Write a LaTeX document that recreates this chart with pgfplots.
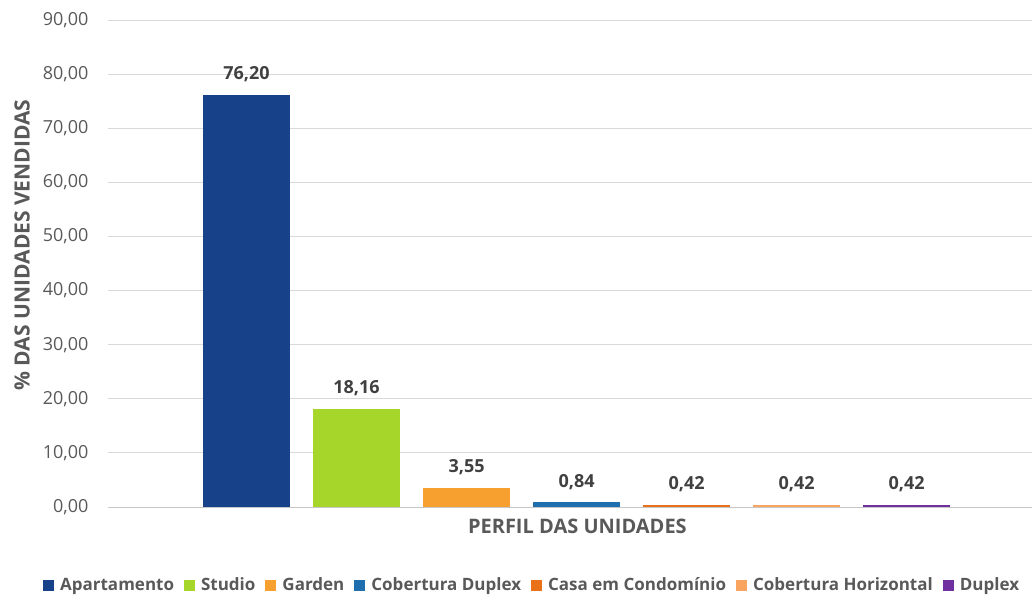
\documentclass[border=0pt]{standalone}
\usepackage{fontspec}
\setmainfont{Open Sans}
\usepackage{pgfplots}
\pgfplotsset{compat=1.18}
\definecolor{cApt}{HTML}{17428A}
\definecolor{cStu}{HTML}{A6D62A}
\definecolor{cGar}{HTML}{F7A030}
\definecolor{cCobD}{HTML}{1F6FAF}
\definecolor{cCasa}{HTML}{E8711A}
\definecolor{cCobH}{HTML}{F9A55F}
\definecolor{cDup}{HTML}{7030A0}
\definecolor{txt}{HTML}{595959}
\definecolor{lbl}{HTML}{404040}
\definecolor{grd}{HTML}{D9D9D9}
\begin{document}
\begin{tikzpicture}
\begin{axis}[
  scale only axis,
  width=924pt, height=487pt,
  xmin=-1.259, xmax=7.14,
  ymin=0, ymax=90,
  ytick={0,10,...,90},
  xtick=\empty,
  ymajorgrids, grid style={grd, line width=1pt},
  axis line style={draw=none},
  major tick length=0pt,
  ybar, bar width=87pt, bar shift=0pt,
  /pgf/number format/.cd, use comma, fixed, fixed zerofill, precision=2, assume math mode=true,
  /pgfplots/.cd,
  yticklabel style={font=\fontsize{18}{20}\selectfont, text=txt, xshift=-16pt},
  nodes near coords,
  nodes near coords style={font=\bfseries\fontsize{18}{20}\selectfont, text=lbl, yshift=9pt,
    /pgf/number format/.cd, use comma, fixed, fixed zerofill, precision=2, assume math mode=true},
  ylabel={\% DAS UNIDADES VENDIDAS},
  every axis y label/.style={at={(axis description cs:-0.093,0.538)}, rotate=90, anchor=center, font=\bfseries\fontsize{21}{23}\selectfont, text=txt},
  xlabel={PERFIL DAS UNIDADES},
  every axis x label/.style={at={(axis description cs:0.508,0)}, anchor=center, yshift=-19pt, font=\bfseries\fontsize{20}{22}\selectfont, text=txt},
  legend columns=7,
  legend style={at={(axis description cs:0.459,0)}, anchor=center, yshift=-78pt, draw=none, fill=none,
    font=\bfseries\fontsize{17}{19}\selectfont, text=txt,
    /tikz/every odd column/.append style={column sep=4pt},
    /tikz/every even column/.append style={column sep=8pt}},
  legend image code/.code={\fill[#1] (0pt,-5.5pt) rectangle (11pt,5.5pt);},
  clip=false,
]
\addplot[fill=cApt, draw=none] coordinates {(0,76.20)};
\addplot[fill=cStu, draw=none] coordinates {(1,18.16)};
\addplot[fill=cGar, draw=none] coordinates {(2,3.55)};
\addplot[fill=cCobD, draw=none] coordinates {(3,0.84)};
\addplot[fill=cCasa, draw=none] coordinates {(4,0.42)};
\addplot[fill=cCobH, draw=none] coordinates {(5,0.42)};
\addplot[fill=cDup, draw=none] coordinates {(6,0.42)};
\legend{Apartamento, Studio, Garden, Cobertura Duplex, Casa em Condomínio, Cobertura Horizontal, Duplex}
\draw[grd!80!gray, line width=1pt] (axis cs:-1.259,0) -- (axis cs:7.14,0);
\end{axis}
\pgfresetboundingbox
\path (-108pt,-88pt) rectangle (927pt,507pt);
\end{tikzpicture}
\end{document}
